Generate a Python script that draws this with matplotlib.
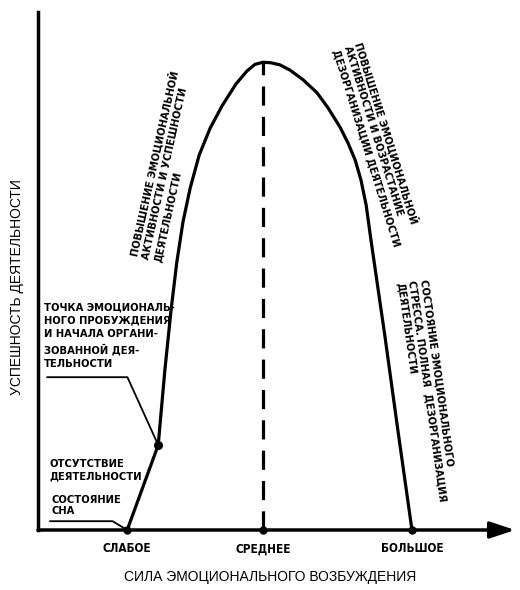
import matplotlib.pyplot as plt

plt.rcParams['font.family'] = ['DejaVu Sans']
plt.rcParams['font.stretch'] = 'condensed'

# arousal (x, 0-100) vs. performance (y, 0-100)
curve_x = [18.7, 25.2, 26.6, 27.9, 29.1, 30.4, 31.9, 33.8, 36.1, 38.6, 41.5, 43.8, 45.5, 47.2,
           48.8, 50.7, 52.8, 55.6, 58.5, 60.8, 63.3, 65.0, 66.5, 67.7, 68.8, 69.8, 72.7, 75.5, 78.4]
curve_y = [0, 16.4, 30.9, 42.5, 51.7, 59.5, 66.0, 72.4, 77.6, 81.9, 86.1, 88.6, 89.9, 90.3,
           90.2, 89.8, 88.8, 86.9, 84.4, 81.5, 77.8, 74.7, 71.4, 67.6, 62.7, 56.0, 37.6, 18.9, 0]

level_pos = [18.7, 47.2, 78.4]
level_labels = ['СЛАБОЕ', 'СРЕДНЕЕ', 'БОЛЬШОЕ']
wake_x, wake_y = curve_x[1], curve_y[1]
peak_x, peak_y = curve_x[13], curve_y[13]

fig = plt.figure(figsize=(5.2, 5.9), dpi=100)
ax = fig.add_axes([38 / 520, 60 / 590, 477 / 520, 518 / 590])
ax.set_xlim(0, 100)
ax.set_ylim(0, 100)

for s in ['top', 'right', 'bottom']:
    ax.spines[s].set_visible(False)
ax.spines['left'].set_linewidth(2.5)
ax.set_yticks([])
ax.set_xticks(level_pos)
ax.set_xticklabels(level_labels, fontsize=8.5, fontweight='bold')
ax.tick_params(axis='x', length=0, pad=9)

# x axis with arrow
ax.annotate('', xy=(1, 0), xytext=(0, 0), xycoords='axes fraction',
            arrowprops=dict(arrowstyle='-|>,head_length=1.5,head_width=0.5',
                            lw=2.5, color='black', shrinkA=0, shrinkB=0,
                            mutation_scale=10), annotation_clip=False)

ax.plot(curve_x, curve_y, color='black', lw=2.3, solid_joinstyle='round', clip_on=False)
ax.plot([peak_x, peak_x], [0, peak_y], color='black', lw=2.3, ls=(0, (6, 3.5)))
ax.plot(level_pos, [0] * len(level_pos), 'o', color='black', ms=5, clip_on=False)
ax.plot([wake_x], [wake_y], 'o', color='black', ms=5.5)

note = dict(fontsize=8, fontweight='bold')

# left notes
ax.text(1.3, 44.0, 'ТОЧКА ЭМОЦИОНАЛЬ-\nНОГО ПРОБУЖДЕНИЯ\nИ НАЧАЛА ОРГАНИ-\nЗОВАННОЙ ДЕЯ-\nТЕЛЬНОСТИ',
        ha='left', va='top', linespacing=1.45, **note)
ax.annotate('', xy=(wake_x, wake_y), xytext=(1.9, 29.5),
            arrowprops=dict(arrowstyle='-', lw=1.3, color='black', shrinkA=0, shrinkB=0,
                            connectionstyle='angle,angleA=0,angleB=-65.6,rad=0'))
ax.text(2.4, 13.7, 'ОТСУТСТВИЕ\nДЕЯТЕЛЬНОСТИ', ha='left', va='top', linespacing=1.3, **note)
ax.text(2.8, 6.7, 'СОСТОЯНИЕ\nСНА', ha='left', va='top', linespacing=1.15, **note)
ax.annotate('', xy=(curve_x[0], curve_y[0]), xytext=(2.5, 1.7),
            arrowprops=dict(arrowstyle='-', lw=1.3, color='black', shrinkA=0, shrinkB=0,
                            connectionstyle='angle,angleA=0,angleB=-31,rad=0'))

# notes along the curve
ax.text(18.9, 53.1, 'ПОВЫШЕНИЕ ЭМОЦИОНАЛЬНОЙ\nАКТИВНОСТИ И УСПЕШНОСТИ\nДЕЯТЕЛЬНОСТИ',
        rotation=77.5, rotation_mode='anchor', ha='left', va='top', linespacing=1.25, **note)
ax.text(68.3, 94.4, 'ПОВЫШЕНИЕ ЭМОЦИОНАЛЬНОЙ\nАКТИВНОСТИ И ВОЗРАСТАНИЕ\nДЕЗОРГАНИЗАЦИИ ДЕЯТЕЛЬНОСТИ',
        rotation=-72.7, rotation_mode='anchor', ha='left', va='top', linespacing=1.2, **note)
ax.text(81.8, 48.6, 'СОСТОЯНИЕ ЭМОЦИОНАЛЬНОГО\nСТРЕССА. ПОЛНАЯ  ДЕЗОРГАНИЗАЦИЯ\nДЕЯТЕЛЬНОСТИ',
        rotation=-82, rotation_mode='anchor', ha='left', va='top', linespacing=1.2, **note)

fig.text(270 / 520, 1 - 577 / 590, 'СИЛА ЭМОЦИОНАЛЬНОГО ВОЗБУЖДЕНИЯ',
         family=['Liberation Sans', 'DejaVu Sans'], stretch='normal', fontsize=10,
         ha='center', va='center')
fig.text(17 / 520, 1 - 287 / 590, 'УСПЕШНОСТЬ ДЕЯТЕЛЬНОСТИ',
         family=['Liberation Sans', 'DejaVu Sans'], stretch='normal', fontsize=10,
         rotation=90, ha='center', va='center')

fig.savefig('out.png', dpi=100, facecolor='white')
